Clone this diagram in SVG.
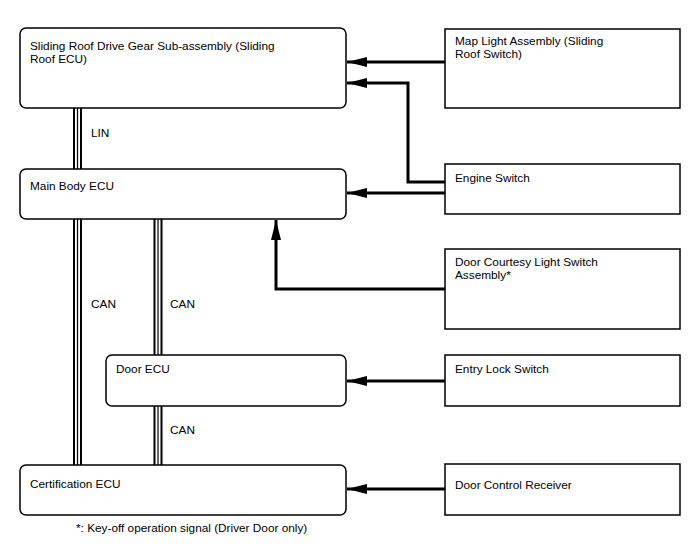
<svg xmlns="http://www.w3.org/2000/svg" width="688" height="560" viewBox="0 0 688 560">
<defs>
<style>
.ecu{fill:#fff;stroke:#000;stroke-width:1.5}
.sw{fill:#fff;stroke:#000;stroke-width:1.5}
text{font-family:"Liberation Sans",Arial,sans-serif;font-size:11.8px;fill:#000}
.sig{fill:none;stroke:#000;stroke-width:3}
.busO{stroke:#000;stroke-width:9;fill:none}
.busW{stroke:#fff;stroke-width:5;fill:none}
.busI{stroke:#000;stroke-width:1.2;fill:none}
</style>
<marker id="ah" markerWidth="20" markerHeight="10" refX="20" refY="5" orient="auto" markerUnits="userSpaceOnUse">
<path d="M0,0 L20,5 L0,10 Z" fill="#000"/>
</marker>
</defs>
<rect width="688" height="560" fill="#fff"/>
<g id="connectors">
<g id="lin">
<path class="busO" d="M77.5,108 V169"/><path class="busW" d="M77.5,108 V169"/><path class="busI" d="M77.5,108 V169"/>
</g>
<g id="can1">
<path class="busO" d="M77.5,219 V465"/><path class="busW" d="M77.5,219 V465"/><path class="busI" d="M77.5,219 V465"/>
</g>
<g id="can2">
<path class="busO" d="M158,219 V355"/><path class="busW" d="M158,219 V355"/><path class="busI" d="M158,219 V355"/>
</g>
<g id="can3">
<path class="busO" d="M158,406 V465"/><path class="busW" d="M158,406 V465"/><path class="busI" d="M158,406 V465"/>
</g>
<path class="sig" d="M445,62 H347" marker-end="url(#ah)"/>
<path class="sig" d="M445,182 H408 V83 H347" marker-end="url(#ah)"/>
<path class="sig" d="M445,193 H347" marker-end="url(#ah)"/>
<path class="sig" d="M445,289 H276 V220" marker-end="url(#ah)"/>
<path class="sig" d="M445,381 H347" marker-end="url(#ah)"/>
<path class="sig" d="M445,489 H347" marker-end="url(#ah)"/>
<text x="91" y="137">LIN</text>
<text x="91" y="308">CAN</text>
<text x="170" y="308">CAN</text>
<text x="170" y="434">CAN</text>
</g>
<g id="sliding-roof-ecu">
<rect class="ecu" x="20" y="28" width="326" height="80" rx="6"/>
<text x="30" y="50">Sliding Roof Drive Gear Sub-assembly (Sliding</text>
<text x="30" y="63">Roof ECU)</text>
</g>
<g id="main-body-ecu">
<rect class="ecu" x="20" y="169" width="326" height="50" rx="6"/>
<text x="30" y="190">Main Body ECU</text>
</g>
<g id="door-ecu">
<rect class="ecu" x="106" y="355" width="240" height="51" rx="6"/>
<text x="116" y="373">Door ECU</text>
</g>
<g id="certification-ecu">
<rect class="ecu" x="20" y="465" width="326" height="50" rx="6"/>
<text x="30" y="488">Certification ECU</text>
</g>
<g id="map-light">
<rect class="sw" x="445" y="29" width="235" height="79"/>
<text x="455" y="45">Map Light Assembly (Sliding</text>
<text x="455" y="58">Roof Switch)</text>
</g>
<g id="engine-switch">
<rect class="sw" x="445" y="164" width="235" height="50"/>
<text x="455" y="182">Engine Switch</text>
</g>
<g id="door-courtesy">
<rect class="sw" x="445" y="249" width="235" height="80"/>
<text x="455" y="266">Door Courtesy Light Switch</text>
<text x="455" y="279">Assembly*</text>
</g>
<g id="entry-lock">
<rect class="sw" x="445" y="355" width="235" height="51"/>
<text x="455" y="373">Entry Lock Switch</text>
</g>
<g id="door-control-receiver">
<rect class="sw" x="445" y="464" width="235" height="51"/>
<text x="455" y="489">Door Control Receiver</text>
</g>
<text x="76" y="532">*: Key-off operation signal (Driver Door only)</text>
</svg>
